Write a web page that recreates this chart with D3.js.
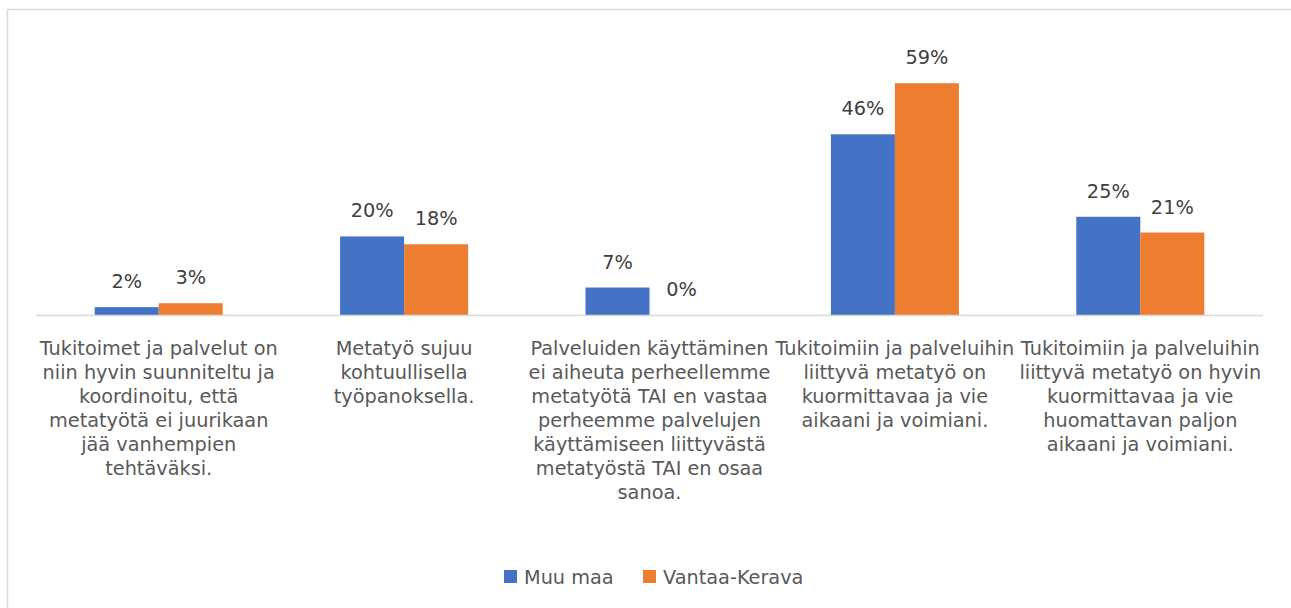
<!DOCTYPE html>
<html>
<head>
<meta charset="UTF-8">
<script src="https://cdn.jsdelivr.net/npm/d3@7"></script>
<title>Metatyö</title>
<style>
body { margin: 0; background: #fff; }
text { font-family: "DejaVu Sans", sans-serif; }
</style>
</head>
<body>
<script>
// categories (line breaks as in the original chart)
const categories = [
  "Tukitoimet ja palvelut on\nniin hyvin suunniteltu ja\nkoordinoitu, että\nmetatyötä ei juurikaan\njää vanhempien\ntehtäväksi.",
  "Metatyö sujuu\nkohtuullisella\ntyöpanoksella.",
  "Palveluiden käyttäminen\nei aiheuta perheellemme\nmetatyötä TAI en vastaa\nperheemme palvelujen\nkäyttämiseen liittyvästä\nmetatyöstä TAI en osaa\nsanoa.",
  "Tukitoimiin ja palveluihin\nliittyvä metatyö on\nkuormittavaa ja vie\naikaani ja voimiani.",
  "Tukitoimiin ja palveluihin\nliittyvä metatyö on hyvin\nkuormittavaa ja vie\nhuomattavan paljon\naikaani ja voimiani."
];
const series = ["Muu maa", "Vantaa-Kerava"];
const muuMaa = [0.02, 0.20, 0.07, 0.46, 0.25];
const vantaaKerava = [0.03, 0.18, 0.00, 0.59, 0.21];
const colors = ["#4472c4", "#ed7d31"];

const W = 1291, H = 608;
const fs = "19.3px";
const svg = d3.select("body").append("svg")
  .attr("width", W).attr("height", H);

// chart frame
svg.append("rect")
  .attr("x", 7.5).attr("y", 9.5)
  .attr("width", W + 20).attr("height", H + 20)
  .attr("fill", "none").attr("stroke", "#d9d9d9").attr("stroke-width", 1.5);

const x0 = d3.scaleBand().domain(d3.range(categories.length)).range([36, 1263]);
const x1 = d3.scaleBand().domain(series).range([0, x0.bandwidth()]).paddingOuter(0.917);
const y = d3.scaleLinear().domain([0, 0.7]).range([315, 40]);

const data = categories.map((c, i) => ({
  i: i,
  vals: [
    {s: series[0], v: muuMaa[i], c: colors[0]},
    {s: series[1], v: vantaaKerava[i], c: colors[1]}
  ]
}));

const groups = svg.selectAll(".cat")
  .data(data)
  .enter().append("g")
  .attr("class", "cat")
  .attr("transform", d => "translate(" + x0(d.i) + ",0)");

groups.selectAll("rect")
  .data(d => d.vals)
  .enter().append("rect")
  .attr("x", d => x1(d.s))
  .attr("width", x1.bandwidth())
  .attr("y", d => y(d.v))
  .attr("height", d => y(0) - y(d.v))
  .attr("fill", d => d.c);

groups.selectAll("text.val")
  .data(d => d.vals)
  .enter().append("text")
  .attr("class", "val")
  .attr("x", d => x1(d.s) + x1.bandwidth() / 2)
  .attr("y", d => y(d.v) - 19)
  .attr("text-anchor", "middle")
  .attr("fill", "#404040")
  .style("font-size", fs)
  .text(d => d3.format(".0%")(d.v));

// axis line
svg.append("line")
  .attr("x1", x0.range()[0]).attr("x2", x0.range()[1])
  .attr("y1", y(0) + 0.5).attr("y2", y(0) + 0.5)
  .attr("stroke", "#d9d9d9").attr("stroke-width", 1.5);

// category labels
const labels = svg.selectAll(".lab")
  .data(categories)
  .enter().append("text")
  .attr("class", "lab")
  .attr("text-anchor", "middle")
  .attr("fill", "#595959")
  .style("font-size", fs);

labels.selectAll("tspan")
  .data((d, i) => d.split("\n").map(t => ({t: t, i: i})))
  .enter().append("tspan")
  .attr("x", d => x0(d.i) + x0.bandwidth() / 2)
  .attr("y", (d, j) => 355 + j * 24)
  .text(d => d.t);

// legend
const legend = svg.append("g");
const legX = [504, 643];
series.forEach((s, i) => {
  legend.append("rect")
    .attr("x", legX[i]).attr("y", 570)
    .attr("width", 13).attr("height", 13)
    .attr("fill", colors[i]);
  legend.append("text")
    .attr("x", legX[i] + 20).attr("y", 584)
    .attr("fill", "#595959")
    .style("font-size", fs)
    .text(s);
});
</script>
</body>
</html>
